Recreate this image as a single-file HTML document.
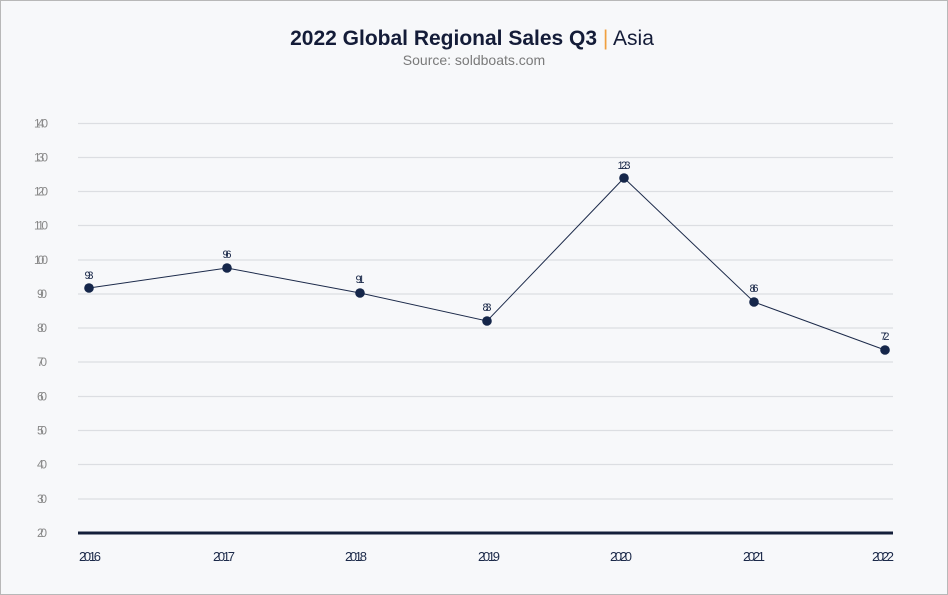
<!DOCTYPE html>
<html><head><meta charset="utf-8"><style>
html,body{margin:0;padding:0;background:#f7f8fa;}
svg{display:block;}
</style></head><body>
<svg width="948" height="595" viewBox="0 0 948 595" xmlns="http://www.w3.org/2000/svg">
<rect x="0.5" y="0.5" width="947" height="594" fill="#f7f8fa" stroke="#b8b8b8"/>
<text x="472" y="45" text-anchor="middle" font-family="Liberation Sans, sans-serif" font-size="21" fill="#141c38"><tspan font-weight="bold">2022 Global Regional Sales Q3</tspan><tspan fill="#f0a040" font-weight="normal"> | </tspan><tspan font-weight="normal">Asia</tspan></text>
<text x="474" y="65" text-anchor="middle" font-family="Liberation Sans, sans-serif" font-size="14" fill="#7a7a7a">Source: soldboats.com</text>
<g stroke="#dcdee2" stroke-width="1.3">
<line x1="78" x2="893" y1="123.5" y2="123.5"/>
<line x1="78" x2="893" y1="157.5" y2="157.5"/>
<line x1="78" x2="893" y1="191.5" y2="191.5"/>
<line x1="78" x2="893" y1="225.5" y2="225.5"/>
<line x1="78" x2="893" y1="260" y2="260"/>
<line x1="78" x2="893" y1="294" y2="294"/>
<line x1="78" x2="893" y1="328" y2="328"/>
<line x1="78" x2="893" y1="362" y2="362"/>
<line x1="78" x2="893" y1="396.5" y2="396.5"/>
<line x1="78" x2="893" y1="430.5" y2="430.5"/>
<line x1="78" x2="893" y1="464.5" y2="464.5"/>
<line x1="78" x2="893" y1="499" y2="499"/>
</g>
<line x1="78" x2="893" y1="533" y2="533" stroke="#141f3a" stroke-width="3"/>
<g font-family="Liberation Sans, sans-serif" font-size="12" fill="#8a8a8a">
<text x="34" y="127.5" textLength="14">140</text>
<text x="34" y="161.5" textLength="14">130</text>
<text x="34" y="195.5" textLength="14">120</text>
<text x="34" y="229.5" textLength="14">110</text>
<text x="34" y="264" textLength="14">100</text>
<text x="37" y="298" textLength="10">90</text>
<text x="37" y="332" textLength="10">80</text>
<text x="37" y="366" textLength="10">70</text>
<text x="37" y="400.5" textLength="10">60</text>
<text x="37" y="434.5" textLength="10">50</text>
<text x="37" y="468.5" textLength="10">40</text>
<text x="37" y="503" textLength="10">30</text>
<text x="37" y="537" textLength="10">20</text>
</g>
<g font-family="Liberation Sans, sans-serif" font-size="13" fill="#1c2a4a" text-anchor="middle">
<text x="90" y="561" textLength="22">2016</text>
<text x="224" y="561" textLength="22">2017</text>
<text x="356" y="561" textLength="22">2018</text>
<text x="489" y="561" textLength="22">2019</text>
<text x="621" y="561" textLength="22">2020</text>
<text x="754" y="561" textLength="22">2021</text>
<text x="883" y="561" textLength="22">2022</text>
</g>
<polyline points="89,288 227,268 360,293 487,321 624,178 754,302 885,350" fill="none" stroke="#1c2a4a" stroke-width="1"/>
<g fill="#15264a">
<circle cx="89" cy="288" r="4.8"/>
<circle cx="227" cy="268" r="4.8"/>
<circle cx="360" cy="293" r="4.8"/>
<circle cx="487" cy="321" r="4.8"/>
<circle cx="624" cy="178" r="4.8"/>
<circle cx="754" cy="302" r="4.8"/>
<circle cx="885" cy="350" r="4.8"/>
</g>
<g font-family="Liberation Sans, sans-serif" font-size="11" fill="#1c2a4a" text-anchor="middle">
<text x="89" y="279" textLength="9">93</text>
<text x="227" y="258" textLength="9">96</text>
<text x="360" y="283" textLength="9">91</text>
<text x="487" y="311" textLength="9">83</text>
<text x="624" y="169" textLength="13">123</text>
<text x="754" y="292" textLength="9">86</text>
<text x="885" y="340" textLength="9">72</text>
</g>
</svg>
</body></html>
